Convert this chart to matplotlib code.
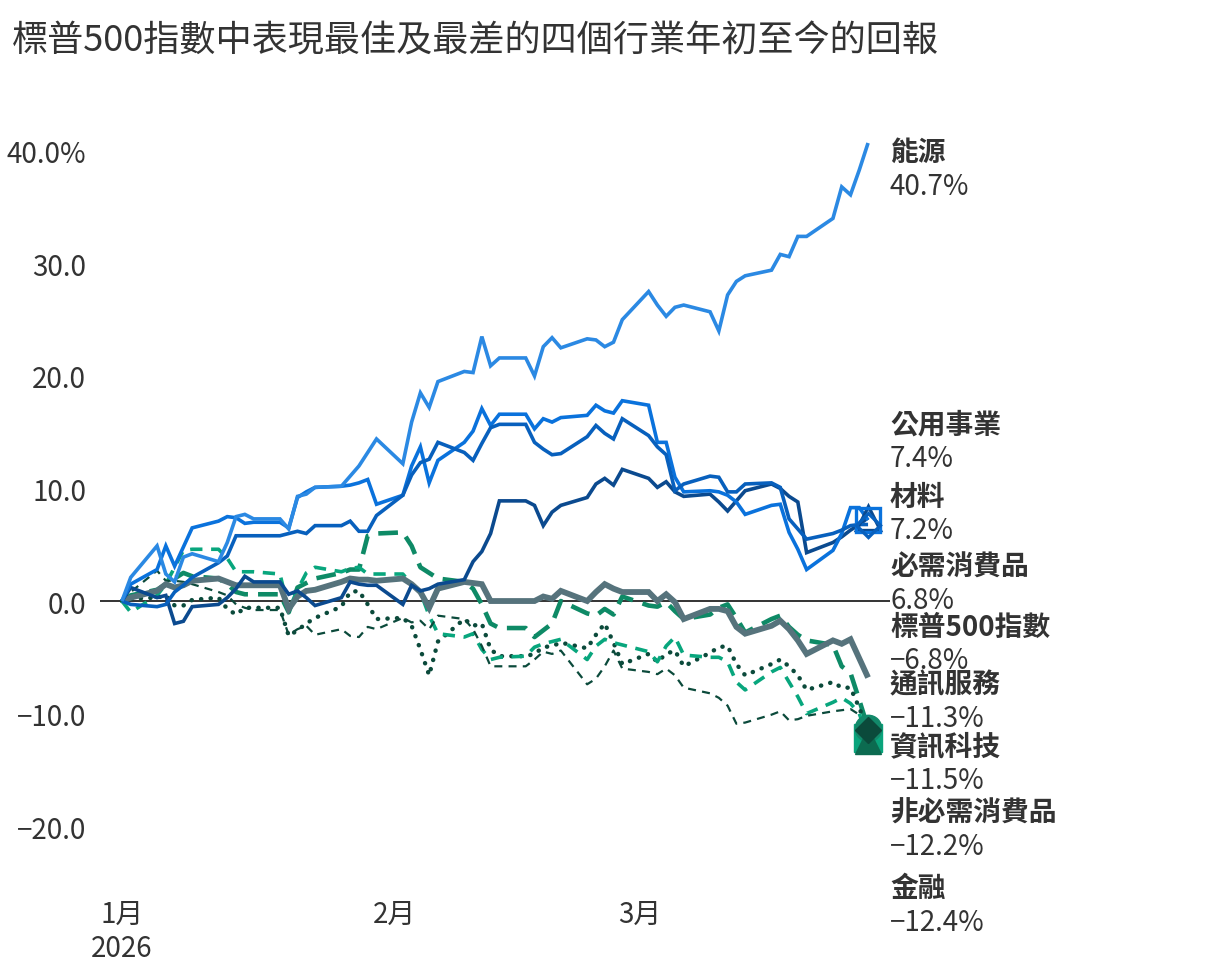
import matplotlib
matplotlib.use("Agg")
import matplotlib.pyplot as plt
import matplotlib.dates as mdates
import pandas as pd

plt.rcParams['font.family'] = ['Noto Sans CJK TC', 'DejaVu Sans']

# trading days (weekdays) from 1 Jan to 27 Mar 2026
dates = pd.bdate_range('2026-01-01', '2026-03-27')

# year-to-date returns, %  (Jan | Feb | Mar)
energy = [0, 2.1, 4.9, 2.4, 1.7, 3.9, 4.2, 3.5, 5.2, 7.5, 7.7, 7.3, 7.3, 6.4, 9.3, 9.5, 10.1, 10.2, 11.1, 12.0, 13.2, 14.4,
          12.2, 15.9, 18.5, 17.2, 19.5, 20.4, 20.3, 23.5, 20.9, 21.6, 21.6, 20.0, 22.6, 23.4, 22.5, 23.3, 23.2, 22.6, 23.0, 25.0,
          27.5, 26.3, 25.3, 26.1, 26.3, 25.7, 24.0, 27.2, 28.4, 28.9, 29.4, 30.8, 30.6, 32.4, 32.4, 34.0, 36.8, 36.1, 38.3, 40.7]
utilities = [0, 1.2, 0.3, 0.5, -2.0, -1.8, -0.5, -0.3, 0.3, 1.1, 2.2, 1.7, 1.7, 0.6, 0.9, 0.3, -0.4, 0.3, 1.7, 1.5, 1.4, 1.4,
             -0.3, 1.4, 0.9, 1.1, 1.5, 1.9, 3.5, 4.4, 6.0, 8.9, 8.9, 8.5, 6.7, 7.9, 8.5, 9.2, 10.4, 10.9, 10.3, 11.7,
             10.9, 10.1, 10.6, 9.7, 9.3, 9.5, 8.8, 8.0, 8.9, 9.8, 10.4, 10.0, 9.3, 8.8, 4.3, 5.2, 5.7, 6.3, 6.8, 7.4]
materials = [0, 1.5, 2.8, 4.9, 3.1, 4.8, 6.5, 7.1, 7.5, 7.4, 6.9, 7.0, 7.0, 6.5, 9.2, 9.7, 10.1, 10.2, 10.3, 10.5, 10.8, 8.6,
             9.4, 12.0, 13.7, 10.5, 12.5, 14.1, 15.1, 17.1, 15.6, 16.6, 16.6, 15.3, 16.2, 15.9, 16.3, 16.5, 17.4, 16.9, 16.7, 17.8,
             17.4, 14.1, 14.1, 11.0, 9.7, 9.8, 9.7, 9.4, 8.8, 7.7, 8.5, 8.6, 6.1, 4.6, 2.8, 4.5, 6.0, 8.3, 8.3, 7.2]
staples = [0, -0.3, -0.5, -0.3, 0.8, 1.4, 2.1, 3.4, 4.0, 5.8, 5.8, 5.8, 5.8, 6.0, 6.2, 6.0, 6.7, 6.7, 7.1, 6.2, 6.2, 7.6,
           9.4, 11.2, 12.3, 12.6, 14.1, 13.2, 12.5, 14.0, 15.4, 15.7, 15.7, 14.1, 13.5, 13.0, 13.1, 14.6, 15.6, 14.9, 14.4, 16.2,
           14.7, 13.7, 13.0, 9.8, 10.4, 11.1, 11.0, 9.7, 9.7, 10.4, 10.5, 10.1, 7.3, 6.4, 5.5, 6.0, 6.3, 6.7, 6.8, 6.8]
sp500 = [0, 0.3, 0.9, 1.5, 1.2, 1.4, 1.8, 2.0, 1.7, 1.4, 1.4, 1.4, 1.4, -0.7, 0.4, 0.9, 1.0, 1.7, 2.0, 1.9, 1.9, 1.8,
         2.0, 1.5, 0.8, -0.6, 1.1, 1.7, 1.6, 1.5, 0.0, 0.0, 0.0, 0.0, 0.4, 0.2, 0.9, 0.0, 0.8, 1.5, 1.1, 0.8,
         0.8, 0.0, 0.6, -0.1, -1.6, -0.7, -0.7, -0.9, -2.3, -2.9, -2.2, -1.75, -2.5, -3.5, -4.7, -3.5, -3.8, -3.4, -5.1, -6.8]
comm = [0, 0.5, 1.0, 1.5, 2.0, 2.5, 2.2, 2.0, 1.5, 0.8, 0.6, 0.6, 0.6, -1.0, 1.2, 1.6, 2.0, 2.5, 2.8, 2.8, 5.8, 6.0,
        6.1, 4.9, 3.0, 2.5, 2.0, 1.7, 1.1, -0.3, -2.0, -2.4, -2.4, -3.2, -2.6, -2.0, 0.0, -1.1, -1.3, -0.7, -1.2, 0.4,
        -0.4, -0.5, -0.1, -0.9, -1.6, -1.2, -0.6, -0.3, -1.5, -2.8, -1.6, -1.3, -2.3, -3.0, -3.5, -3.9, -5.8, -6.4, -8.8, -11.3]
tech = [0, 0.2, 0.3, 0.5, -0.4, -0.4, 0.1, 0.3, -0.7, -1.2, -0.6, -0.6, -0.6, -3.1, -2.6, -2.0, -1.5, -0.5, 0.8, 0.9, -0.3, -1.6,
        -1.5, -2.2, -4.3, -6.6, -3.6, -1.6, -2.2, -2.0, -4.3, -4.9, -4.9, -4.7, -4.1, -4.0, -3.7, -4.2, -3.0, -2.0, -3.7, -5.6,
        -4.7, -5.4, -4.7, -4.4, -5.8, -4.6, -4.1, -4.0, -5.6, -6.6, -5.6, -5.2, -5.8, -6.6, -7.9, -7.2, -7.7, -7.7, -9.5, -11.5]
discretionary = [0, -1.0, 0.5, 1.5, 3.0, 4.5, 4.6, 4.6, 3.8, 2.6, 2.6, 2.6, 2.4, -0.8, 1.0, 2.5, 3.0, 2.6, 2.9, 3.0, 2.4, 2.4,
                 2.4, 1.5, 0.8, -1.3, -2.9, -3.2, -2.9, -4.3, -5.2, -5.0, -4.9, -4.1, -3.8, -3.6, -3.4, -5.2, -4.0, -3.4, -3.7, -3.9,
                 -4.5, -5.4, -4.0, -3.2, -4.8, -5.0, -5.0, -5.4, -7.2, -7.9, -6.3, -5.9, -7.2, -8.5, -10.0, -9.0, -8.6, -9.1, -10.0, -12.2]
financials = [0, 0.8, 2.7, 1.8, 1.8, 1.7, 1.5, 0.8, 0.5, -0.3, -0.6, -0.8, -0.8, -3.0, -2.5, -2.2, -3.0, -2.5, -3.1, -3.2, -2.3, -2.5,
              -1.5, -1.9, -1.75, -2.5, -1.3, -1.6, -2.5, -4.0, -5.8, -5.8, -5.8, -5.2, -4.5, -4.7, -4.4, -7.4, -6.9, -5.8, -4.4, -6.0,
              -6.3, -6.5, -6.0, -6.6, -7.7, -8.2, -8.6, -9.3, -10.9, -10.8, -10.1, -9.8, -10.6, -10.5, -10.2, -9.8, -9.7, -9.6, -10.1, -12.4]

names = ['能源', '公用事業', '材料', '必需消費品', '標普500指數', '通訊服務', '資訊科技', '非必需消費品', '金融']
values = [energy, utilities, materials, staples, sp500, comm, tech, discretionary, financials]

# styles: colour, width, dashes, end marker, marker filled?, zorder
styles = [
    dict(color='#2b89e3', lw=2.6, dashes=None, marker=None, ms=0, fill=False, z=6),
    dict(color='#0b4a8f', lw=2.6, dashes=None, marker='^', ms=17, fill=False, z=5),
    dict(color='#0a72dc', lw=2.6, dashes=None, marker='s', ms=17, fill=False, z=5),
    dict(color='#0860bd', lw=2.6, dashes=None, marker='D', ms=12, fill=False, z=5),
    dict(color='#56737c', lw=4.2, dashes=None, marker=None, ms=0, fill=False, z=4),
    dict(color='#0e8a66', lw=3.3, dashes=(4.3, 2.2), marker='o', ms=19, fill=True, z=3),
    dict(color='#0b4a3b', lw=3.2, dashes=(0.05, 2.1), marker='D', ms=13, fill=True, z=3),
    dict(color='#08a67d', lw=2.6, dashes=(3.4, 2.4), marker='s', ms=20, fill=True, z=3),
    dict(color='#0b4a3b', lw=1.6, dashes=(3.6, 2.8), marker='^', ms=19, fill=True, z=3),
]
marker_colors = [None, None, None, None, None, '#12896a', '#0b4a3b', '#0aa47c', '#0c6b50']
marker_z = [None, 7, 7, 7, None, 8, 10, 7, 9]

# vertical centre of each end label block (layout only)
label_y = [38.4, 14.2, 7.8, 1.6, -3.8, -8.9, -14.4, -20.3, -27.0]

text_color = '#333333'

fig = plt.figure(figsize=(12.2, 9.7), dpi=100)
ax = fig.add_axes([100 / 1220, 81 / 970, 790 / 1220, 754 / 970])

for i, (name, vals, st) in enumerate(zip(names, values, styles)):
    line, = ax.plot(dates, vals, color=st['color'], lw=st['lw'], zorder=st['z'],
                    solid_joinstyle='miter', solid_capstyle='butt')
    if st['dashes'] is not None:
        line.set_dashes(st['dashes'])
        if st['dashes'][0] < 0.5:
            line.set_dash_capstyle('round')
    if st['marker']:
        if st['fill']:
            ax.plot(dates[-1], vals[-1], marker=st['marker'], ms=st['ms'],
                    color=marker_colors[i], mec=marker_colors[i], zorder=marker_z[i])
        else:
            ax.plot(dates[-1], vals[-1], marker=st['marker'], ms=st['ms'],
                    mfc='none', mec=st['color'], mew=2.4, zorder=marker_z[i])

ax.axhline(0, color=text_color, lw=1.4, zorder=2)

# end labels
trans = ax.get_yaxis_transform()
for name, vals, y in zip(names, values, label_y):
    v = vals[-1]
    vtxt = f'{v:.1f}%'.replace('-', '\u2212')
    ax.annotate(name, xy=(1.0, y), xycoords=trans, xytext=(0, 12), textcoords='offset points',
                ha='left', va='center', fontsize=20, fontweight='bold', color=text_color,
                annotation_clip=False)
    ax.annotate(vtxt, xy=(1.0, y), xycoords=trans, xytext=(0, -12), textcoords='offset points',
                ha='left', va='center', fontsize=20, fontweight='light', color=text_color,
                annotation_clip=False)

start = mdates.date2num(pd.Timestamp('2026-01-01'))
ax.set_xlim(start - 2.5, start + 87.5)
ax.set_ylim(-25.5, 41.5)

yticks = [-20, -10, 0, 10, 20, 30, 40]
ylabels = [f'{t:.1f}'.replace('-', '\u2212') for t in yticks]
ylabels[-1] += '%'
ax.set_yticks(yticks)
ax.set_yticklabels(ylabels, fontweight='light')

xticks = [pd.Timestamp('2026-01-01'), pd.Timestamp('2026-02-01'), pd.Timestamp('2026-03-01')]
ax.set_xticks(xticks)
ax.set_xticklabels(['1月\n2026', '2月', '3月'], linespacing=1.15, fontweight='light')

ax.tick_params(axis='both', length=0, labelsize=20, labelcolor=text_color)
ax.tick_params(axis='y', pad=10)
ax.tick_params(axis='x', pad=8)
for s in ax.spines.values():
    s.set_visible(False)

fig.text(12 / 1220, 1 - 42 / 970, '標普500指數中表現最佳及最差的四個行業年初至今的回報',
         fontsize=26, color=text_color, ha='left', va='center')

fig.savefig('out.png', dpi=100)
